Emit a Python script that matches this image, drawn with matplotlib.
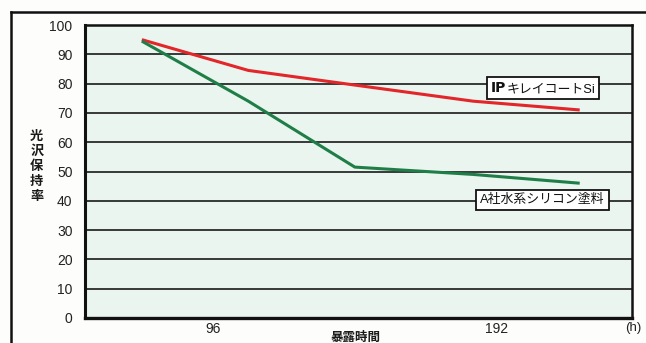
import matplotlib
matplotlib.use("Agg")
import matplotlib.pyplot as plt
from matplotlib.lines import Line2D
from matplotlib.offsetbox import TextArea, HPacker, AnchoredOffsetbox

plt.rcParams['font.family'] = ['Liberation Sans', 'Noto Sans CJK JP', 'DejaVu Sans']

# exposure time (h) and gloss retention (%)
hours = [72, 108, 144, 184, 220]
ip_kirei = [95, 84.5, 79.5, 74, 71]
company_a = [94.5, 74, 51.5, 49, 46]

y_ticks = [0, 10, 20, 30, 40, 50, 60, 70, 80, 90, 100]
x_ticks = [96, 192]
x_tick_labels = ["96", "192"]

brand = "IP"
label_ip = "キレイコートSi"
label_a = "A社水系シリコン塗料"
y_label = "光沢保持率"
x_label = "暴露時間"
unit = "(h)"

fig = plt.figure(figsize=(6.46, 3.43), dpi=100)
fig.patch.set_facecolor("#fdfdfb")

ax = fig.add_axes([0.1316, 0.0729, 0.8464, 0.8542])
ax.set_facecolor("#e9f5ee")
ax.set_xlim(52.8, 237.6)
ax.set_ylim(0, 100)

for v in y_ticks[1:-1]:
    ax.axhline(v, color="#2a2a2a", lw=1.3, zorder=1)

ax.plot(hours, ip_kirei, color="#e2262a", lw=2.2, zorder=3, solid_capstyle="butt")
ax.plot(hours, company_a, color="#1f7e47", lw=2.2, zorder=3, solid_capstyle="butt")

for s in ax.spines.values():
    s.set_color("#111111")
    s.set_linewidth(1.8)
ax.spines["bottom"].set_linewidth(2.4)
ax.spines["left"].set_linewidth(2.2)

ax.set_yticks(y_ticks)
ax.set_yticklabels([str(v) for v in y_ticks])
ax.set_xticks(x_ticks)
ax.set_xticklabels(x_tick_labels)
ax.tick_params(axis="y", length=0, pad=9, labelsize=10, labelcolor="#222222")
ax.tick_params(axis="x", length=0, pad=3, labelsize=10, labelcolor="#222222")


def boxed_label(children, loc_xy):
    pack = HPacker(children=children, align="baseline", pad=0, sep=0)
    anchored = AnchoredOffsetbox(loc="center", child=pack, pad=0.3, borderpad=0,
                                 bbox_to_anchor=loc_xy, bbox_transform=ax.transAxes,
                                 frameon=True)
    anchored.patch.set_facecolor("white")
    anchored.patch.set_edgecolor("#111111")
    anchored.patch.set_linewidth(1.3)
    anchored.patch.set_boxstyle("square,pad=0")
    anchored.set_zorder(5)
    ax.add_artist(anchored)


boxed_label([TextArea(brand, textprops=dict(fontsize=10, fontweight="heavy",
                                            family="DejaVu Sans", color="#111111")),
             TextArea(label_ip, textprops=dict(fontsize=9.3, color="#111111"))],
            (0.838, 0.785))
boxed_label([TextArea(label_a, textprops=dict(fontsize=9.3, color="#111111"))],
            (0.836, 0.402))

fig.text(0.057, 0.514, "\n".join(y_label), ha="center", va="center",
         fontsize=9.5, linespacing=1.28, color="#1a1a1a", fontweight="bold")
fig.text(0.551, 0.015, x_label, ha="center", va="center", fontsize=9,
         fontweight="bold", color="#1a1a1a")
fig.text(0.98, 0.045, unit, ha="center", va="center", fontsize=9.5, color="#222222")

# outer frame lines (top and left)
fig.add_artist(Line2D([0.017, 1.0], [0.965, 0.965], transform=fig.transFigure,
                      color="#111111", lw=1.8))
fig.add_artist(Line2D([0.017, 0.017], [0.0, 0.965], transform=fig.transFigure,
                      color="#111111", lw=1.8))

fig.savefig("out.png", dpi=100, facecolor=fig.get_facecolor())
